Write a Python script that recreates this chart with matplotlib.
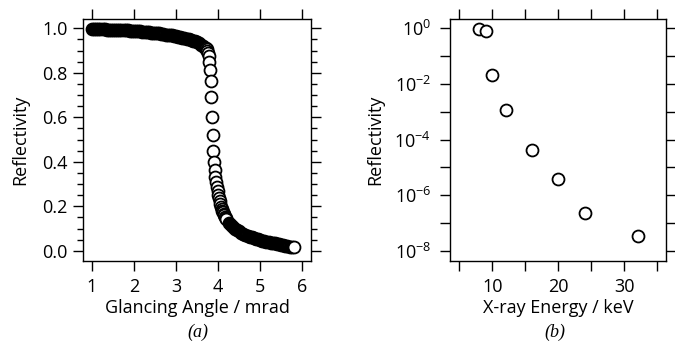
import numpy as np
import matplotlib.pyplot as plt
from matplotlib.ticker import MultipleLocator, FixedLocator, FuncFormatter

plt.rcParams['font.family'] = ['Open Sans', 'DejaVu Sans']
plt.rcParams['mathtext.fontset'] = 'custom'
plt.rcParams['mathtext.rm'] = 'Open Sans'

# (a) reflectivity vs glancing angle (mrad)
angle_flat = [1.00, 1.05, 1.10, 1.15, 1.20, 1.25, 1.30, 1.35, 1.40, 1.45,
              1.50, 1.55, 1.60, 1.65, 1.70, 1.75, 1.80, 1.85, 1.90, 1.95,
              2.00, 2.05, 2.10, 2.15, 2.20, 2.25, 2.30, 2.35, 2.40, 2.45,
              2.50, 2.55, 2.60, 2.65, 2.70, 2.75, 2.80, 2.85, 2.90, 2.95,
              3.00, 3.05, 3.10, 3.15, 3.20, 3.25, 3.30, 3.35, 3.40, 3.45,
              3.50, 3.55, 3.60, 3.65, 3.70]
refl_flat = [0.995, 0.995, 0.995, 0.995, 0.995, 0.995, 0.995, 0.994, 0.994, 0.994,
             0.994, 0.993, 0.993, 0.993, 0.992, 0.992, 0.991, 0.991, 0.990, 0.989,
             0.989, 0.988, 0.987, 0.986, 0.985, 0.984, 0.983, 0.982, 0.981, 0.980,
             0.979, 0.978, 0.977, 0.975, 0.974, 0.972, 0.971, 0.969, 0.968, 0.966,
             0.964, 0.962, 0.960, 0.958, 0.956, 0.953, 0.951, 0.948, 0.945, 0.941,
             0.937, 0.933, 0.927, 0.921, 0.913]
angle_edge = [3.714, 3.730, 3.746, 3.762, 3.778, 3.794, 3.810, 3.826, 3.842, 3.858,
              3.874, 3.890, 3.906, 3.922, 3.938, 3.954, 3.970, 3.986, 4.002, 4.018,
              4.034, 4.050, 4.066, 4.082, 4.098, 4.114, 4.130, 4.146, 4.162, 4.178,
              4.194]
refl_edge = [0.910, 0.905, 0.898, 0.890, 0.875, 0.850, 0.812, 0.763, 0.692, 0.602,
             0.520, 0.450, 0.400, 0.363, 0.333, 0.308, 0.286, 0.267, 0.250, 0.235,
             0.222, 0.210, 0.199, 0.190, 0.181, 0.173, 0.166, 0.159, 0.153, 0.147,
             0.142]
angle_tail = [4.25, 4.30, 4.35, 4.40, 4.45, 4.50, 4.55, 4.60, 4.65, 4.70,
              4.75, 4.80, 4.85, 4.90, 4.95, 5.00, 5.05, 5.10, 5.15, 5.20,
              5.25, 5.30, 5.35, 5.40, 5.45, 5.50, 5.55, 5.60, 5.65, 5.70,
              5.75, 5.80]
refl_tail = [0.127, 0.117, 0.108, 0.100, 0.093, 0.087, 0.081, 0.076, 0.072, 0.068,
             0.064, 0.060, 0.057, 0.054, 0.051, 0.048, 0.046, 0.043, 0.041, 0.039,
             0.037, 0.035, 0.033, 0.031, 0.029, 0.027, 0.025, 0.023, 0.021, 0.019,
             0.017, 0.015]

# (b) reflectivity vs X-ray energy (keV)
energy = [8, 9, 10, 12, 16, 20, 24, 32]
refl_energy = [0.92, 0.80, 0.021, 1.15e-3, 4.2e-5, 3.7e-6, 2.2e-7, 3.4e-8]

W, H = 675, 351
fig = plt.figure(figsize=(W / 100, H / 100), dpi=100)

FS = 13
# open circles; densely packed runs get a heavier edge so they merge into a band
mk = dict(linestyle='none', marker='o', markersize=8.6, markeredgewidth=1.3,
          markerfacecolor='white', markeredgecolor='black')
mk_dense = dict(mk, markersize=7.2, markeredgewidth=2.7)


def style_ticks(ax):
    for s in ax.spines.values():
        s.set_linewidth(1.0)
    ax.tick_params(which='both', direction='out', top=True, right=True,
                   labeltop=False, labelright=False, width=1.0, labelsize=FS,
                   color='black')
    ax.tick_params(which='major', length=7.5)
    ax.tick_params(which='minor', length=4)
    ax.tick_params(axis='x', pad=5)


# panel (a)
ax1 = fig.add_axes([83 / W, 1 - 261 / H, 228 / W, 242 / H])
ax1.plot(angle_flat, refl_flat, **mk_dense)
ax1.plot(angle_edge, refl_edge, **mk)
ax1.plot(angle_tail[:-1], refl_tail[:-1], **mk_dense)
ax1.plot(angle_tail[-1:], refl_tail[-1:], **mk)
ax1.set_xlim(0.786, 6.21)
ax1.set_ylim(-0.046, 1.042)
ax1.xaxis.set_major_locator(MultipleLocator(1))
ax1.yaxis.set_major_locator(MultipleLocator(0.2))
ax1.yaxis.set_minor_locator(MultipleLocator(0.05))
ax1.yaxis.set_major_formatter(FuncFormatter(lambda v, p: "%.1f" % v))
style_ticks(ax1)
ax1.set_xlabel("Glancing Angle / mrad", fontsize=FS, labelpad=2)
ax1.set_ylabel("Reflectivity", fontsize=FS, labelpad=9)

# panel (b)
ax2 = fig.add_axes([450 / W, 1 - 261 / H, 216 / W, 242 / H])
ax2.plot(energy, refl_energy, **mk)
ax2.set_yscale('log')
ax2.set_xlim(3.59, 36.3)
ax2.set_ylim(10 ** -8.37, 10 ** 0.335)
ax2.xaxis.set_major_locator(FixedLocator([10, 20, 30]))
ax2.xaxis.set_minor_locator(FixedLocator([5, 15, 25, 35]))
ax2.yaxis.set_major_locator(FixedLocator([10.0 ** k for k in range(0, -9, -1)]))
ax2.yaxis.set_minor_locator(FixedLocator([]))


def log_fmt(v, p):
    e = int(round(np.log10(v)))
    if e % 2:
        return ""
    return r"$\mathregular{10^{%d}}$" % e


ax2.yaxis.set_major_formatter(FuncFormatter(log_fmt))
style_ticks(ax2)
ax2.tick_params(axis='x', which='minor', length=7.5)
ax2.tick_params(axis='y', pad=6)
ax2.set_xlabel("X-ray Energy / keV", fontsize=FS, labelpad=2)
ax2.set_ylabel("Reflectivity", fontsize=FS, labelpad=7)

fig.text(198 / W, 1 - 332 / H, "(a)", family='Liberation Serif', style='italic',
         fontsize=13, ha='center', va='center')
fig.text(555 / W, 1 - 332 / H, "(b)", family='Liberation Serif', style='italic',
         fontsize=13, ha='center', va='center')

plt.savefig("out.png", dpi=100)
